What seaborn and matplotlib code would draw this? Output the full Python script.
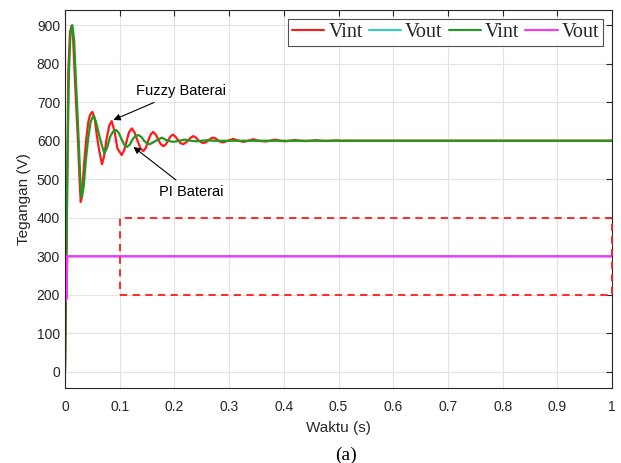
import numpy as np
import pandas as pd
import matplotlib
matplotlib.use("Agg")
import matplotlib.pyplot as plt
import seaborn as sns

# ---- data ----
t_fuzzy = [0, 0.002, 0.004, 0.006, 0.009, 0.012, 0.015, 0.0183, 0.0215, 0.0243, 0.0265, 0.0287,
           0.031, 0.0347, 0.0385, 0.0426, 0.046, 0.050, 0.054, 0.058, 0.0625, 0.0676, 0.0715,
           0.076, 0.081, 0.0853, 0.0905, 0.0957, 0.1036, 0.108, 0.1128, 0.117, 0.122, 0.127,
           0.1325, 0.138, 0.143, 0.148, 0.152, 0.157, 0.161, 0.166, 0.1705, 0.175, 0.180,
           0.1845, 0.1885, 0.193, 0.197, 0.2015, 0.206, 0.211, 0.216, 0.2205, 0.225, 0.230,
           0.2346, 0.2395, 0.244, 0.249, 0.253, 0.2575, 0.262, 0.2665, 0.271, 0.2755, 0.280,
           0.2845, 0.289, 0.298, 0.3077, 0.317, 0.326, 0.335, 0.344, 0.354, 0.366, 0.375,
           0.384, 0.393, 0.402, 0.411, 0.420, 0.430, 0.440, 0.449, 0.458, 0.467, 0.477,
           0.486, 0.495, 0.505, 1.0]
v_fuzzy = [0, 200, 480, 780, 880, 899, 860, 753, 660, 580, 500, 441,
           455, 537, 600, 650, 668, 675, 660, 615, 575, 539, 560,
           605, 640, 651, 625, 580, 563, 575, 600, 622, 632, 622,
           600, 580, 573, 582, 600, 617, 623, 616, 603, 591, 586,
           591, 601, 611, 616, 611, 603, 594, 591, 595, 601, 608,
           612, 608, 601, 596, 594, 596, 601, 606, 608, 606, 600,
           597, 596, 600, 605, 600, 597, 600, 604, 600, 598, 600,
           603, 600, 598.5, 600, 602, 600, 599, 600, 601.5, 600, 599.3,
           600, 601, 600, 600]

t_pi = [0, 0.002, 0.004, 0.007, 0.010, 0.0134, 0.0167, 0.020, 0.0228, 0.0256, 0.028, 0.0305,
        0.034, 0.0384, 0.0427, 0.047, 0.0518, 0.0565, 0.0609, 0.0665, 0.0719, 0.077, 0.0823,
        0.0878, 0.0932, 0.098, 0.103, 0.108, 0.113, 0.1185, 0.1235, 0.129, 0.134, 0.1395,
        0.1445, 0.150, 0.155, 0.166, 0.177, 0.1875, 0.198, 0.2085, 0.219, 0.2295, 0.240,
        0.250, 0.261, 0.272, 1.0]
v_pi = [0, 250, 500, 770, 880, 900, 860, 753, 670, 580, 500, 452,
        480, 554, 610, 650, 665, 650, 623, 592, 567, 582, 610,
        624, 628, 621, 605, 590, 584, 590, 604, 612, 615, 610,
        600, 593, 591, 600, 608, 600, 597, 600, 603, 600, 598.5,
        600, 601.5, 600, 600]

t_vout1 = [0, 0.003, 1.0]
v_vout1 = [182, 300, 300]
t_vout2 = [0, 0.001, 0.002, 0.003, 0.004, 1.0]
v_vout2 = [300, 182, 300, 190, 300, 300]

series_labels = ["Vint", "Vout", "Vint", "Vout"]
series_colors = ["#ff1a1a", "#33cccc", "#1e9a1e", "#ff33ff"]

x_ticks = [0, 0.1, 0.2, 0.3, 0.4, 0.5, 0.6, 0.7, 0.8, 0.9, 1.0]
x_ticklabels = ["0", "0.1", "0.2", "0.3", "0.4", "0.5", "0.6", "0.7", "0.8", "0.9", "1"]
y_ticks = [0, 100, 200, 300, 400, 500, 600, 700, 800, 900]

box_x = [0.1, 1.0]
box_y = [200, 400]

# ---- plot ----
sns.set_style("white")
plt.rcParams['font.family'] = ['Liberation Sans', 'DejaVu Sans']

fig = plt.figure(figsize=(6.21, 4.63), dpi=100)
ax = fig.add_axes([0.1047, 0.162, 0.881, 0.816])

all_series = [(t_fuzzy, v_fuzzy), (t_vout1, v_vout1), (t_pi, v_pi), (t_vout2, v_vout2)]
for i, ((tt, vv), lab, col) in enumerate(zip(all_series, series_labels, series_colors)):
    df = pd.DataFrame({"t": tt, "v": vv})
    sns.lineplot(data=df, x="t", y="v", ax=ax, color=col, lw=1.6, label=lab,
                 estimator=None, sort=False)

# dashed rectangle
ax.plot([box_x[0], box_x[1], box_x[1], box_x[0], box_x[0]],
        [box_y[0], box_y[0], box_y[1], box_y[1], box_y[0]],
        ls=(0, (4, 3)), color="#ff1a1a", lw=1.3, clip_on=False, zorder=5)

ax.set_xlim(0, 1)
ax.set_ylim(-42, 939)
ax.set_xticks(x_ticks)
ax.set_xticklabels(x_ticklabels)
ax.set_yticks(y_ticks)
ax.grid(True, color="#e3e3e3", lw=0.8)
ax.set_axisbelow(True)
for s in ax.spines.values():
    s.set_color("#262626")
    s.set_linewidth(0.8)
ax.tick_params(direction="in", length=4, width=0.8, color="#262626",
               labelsize=10, labelcolor="#262626", top=True, right=True,
               labeltop=False, labelright=False)
ax.tick_params(axis="x", pad=8.5)
ax.tick_params(axis="y", pad=3.6)
ax.set_xlabel("Waktu (s)", fontsize=11, color="#262626", labelpad=5)
ax.set_ylabel("Tegangan (V)", fontsize=11, color="#262626", labelpad=4)

ax.annotate("Fuzzy Baterai", xy=(0.0884, 654), xytext=(0.129, 729),
            fontsize=10.5, color="black", va="center", ha="left",
            arrowprops=dict(arrowstyle="-|>", color="black", lw=0.8,
                            mutation_scale=10, shrinkA=2, shrinkB=0))
ax.annotate("PI Baterai", xy=(0.125, 584), xytext=(0.172, 467),
            fontsize=10.5, color="black", va="center", ha="left",
            arrowprops=dict(arrowstyle="-|>", color="black", lw=0.8,
                            mutation_scale=10, shrinkA=2, shrinkB=0))

leg = ax.legend(loc="upper right", ncol=4, frameon=True, fancybox=False,
                prop={"family": "Liberation Serif", "size": 14.5},
                handlelength=1.6, handletextpad=0.2, columnspacing=0.3,
                borderpad=0.2, borderaxespad=0.45)
leg.get_frame().set_edgecolor("#262626")
leg.get_frame().set_linewidth(0.8)
for h in leg.get_lines():
    h.set_linewidth(1.5)

fig.text(346 / 621, 1 - 455 / 463, "(a)", ha="center", va="center",
         fontsize=14, family="Liberation Serif", color="black")

fig.savefig("out.png", dpi=100)
